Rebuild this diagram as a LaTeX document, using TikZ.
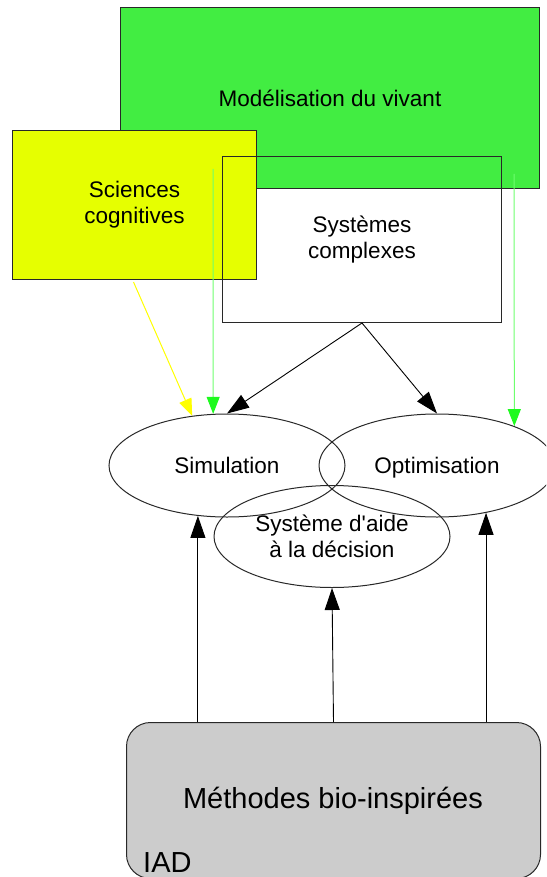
\documentclass[tikz,border=0pt]{standalone}
\usepackage{fontspec}
\setmainfont{Liberation Sans}[Ligatures=TeXOff]
\usetikzlibrary{arrows.meta,shapes.geometric}
\definecolor{vivant}{RGB}{66,237,66}
\definecolor{cogn}{RGB}{230,255,0}
\definecolor{iad}{RGB}{204,204,204}
\definecolor{edge}{RGB}{40,40,40}
\definecolor{greenline}{RGB}{110,255,110}
\definecolor{greenhead}{RGB}{30,250,30}
\definecolor{yellowline}{RGB}{255,255,0}
\tikzset{
  txt/.style={font=\fontsize{22.5}{26}\selectfont, align=center},
  bigtxt/.style={font=\fontsize{29}{33}\selectfont},
  panel/.style={draw=edge, line width=1pt, inner sep=0pt, anchor=north west},
  oval/.style={ellipse, draw=edge, line width=1pt, inner sep=0pt,
    minimum width=236pt, minimum height=103pt, txt},
  blackarrow/.style={draw=black, line width=0.9pt,
    -{Triangle[length=22pt,width=15pt]}},
  greenarrow/.style={draw=greenline, line width=1pt,
    -{Triangle[length=17pt,width=13pt,color=greenhead,fill=greenhead]}},
  yellowarrow/.style={draw=yellowline, line width=1pt,
    -{Triangle[length=17pt,width=13pt]}},
}
\begin{document}
\begin{tikzpicture}[x=1pt,y=-1pt]
  \useasboundingbox (0,0) rectangle (546,877);
  \begin{scope}
    \clip (0,0) rectangle (546,877);

    % overlapping domain boxes
    \node[panel, fill=vivant, minimum width=419pt, minimum height=181pt]
      (viv) at (120,7) {};
    \node[txt] at (viv.center) {Modélisation du vivant};
    \node[panel, fill=cogn, minimum width=244pt, minimum height=149pt]
      (sci) at (12,130) {};
    \node[txt] at (sci.center) {Sciences\\cognitives};
    \node[panel, minimum width=279pt, minimum height=166pt]
      (sys) at (222,156) {};
    \node[txt] at (sys.center) {Systèmes\\complexes};

    % application ovals
    \node[oval, text depth=0pt] (sim) at (227,465.5) {Simulation};
    \node[oval, text depth=0pt] (opt) at (437,465.5) {Optimisation};
    \node[oval, minimum height=102pt] (dec) at (332,536.5)
      {Système d'aide\\à la décision};

    % bio-inspired methods block
    \node[draw=edge, line width=1pt, fill=iad, rounded corners=24pt,
      minimum width=414pt, minimum height=156pt, inner sep=0pt,
      anchor=north west] (meth) at (126,722) {};
    \node[bigtxt] at (333,801) {Méthodes bio-inspirées};
    \node[bigtxt, anchor=base west, inner sep=0pt] (iadlbl) at (143,872) {IAD};

    % free starting points of the coloured links
    \coordinate (gstart1) at (213,169);
    \coordinate (gstart2) at (514,174);

    % connectors
    \draw[yellowarrow] (sci.south) ++(-1,2) -- (sim.125.4);
    \draw[greenarrow] (gstart1) -- (sim.105.3);
    \draw[greenarrow] (gstart2) -- (opt.27.5);
    \draw[blackarrow] (sys.south) -- (sim.north);
    \draw[blackarrow] (sys.south) -- (opt.north);
    \draw[blackarrow] (sim.240 |- meth.north) -- (sim.240);
    \draw[blackarrow] (meth.north) -- (dec.south);
    \draw[blackarrow] (opt.-44.4 |- meth.north) -- (opt.-44.4);
  \end{scope}
\end{tikzpicture}
\end{document}
